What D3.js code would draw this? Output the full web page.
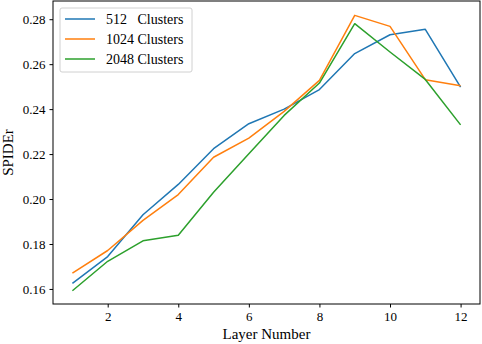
<!DOCTYPE html>
<html>
<head>
<meta charset="utf-8">
<script src="https://cdn.jsdelivr.net/npm/d3@7"></script>
<style>
  body { margin: 0; background: #fff; }
  svg text { font-family: 'Liberation Serif', 'Times New Roman', serif; fill: #000; }
</style>
</head>
<body>
<div id="chart"></div>
<script>
const layers = [1, 2, 3, 4, 5, 6, 7, 8, 9, 10, 11, 12];
const clusters512 = [0.1625, 0.1744, 0.1930, 0.2065, 0.2224, 0.2335, 0.2400, 0.2487, 0.2647, 0.2731, 0.2755, 0.2498];
const clusters1024 = [0.1670, 0.1771, 0.1905, 0.2020, 0.2186, 0.2271, 0.2390, 0.2528, 0.2817, 0.2768, 0.2531, 0.2504];
const clusters2048 = [0.1592, 0.1723, 0.1814, 0.1839, 0.2030, 0.2201, 0.2372, 0.2516, 0.2780, 0.2654, 0.2532, 0.2330];
const seriesNames = ['512   Clusters', '1024 Clusters', '2048 Clusters'];
const xTicks = [2, 4, 6, 8, 10, 12];
const yTicks = [0.16, 0.18, 0.20, 0.22, 0.24, 0.26, 0.28];

const colors = ['#1f77b4', '#ff7f0e', '#2ca02c'];
const allSeries = [clusters512, clusters1024, clusters2048];

const width = 482, height = 344;
const margin = { top: 1, right: 2, bottom: 40, left: 53 };

const svg = d3.select('#chart')
  .append('svg')
  .attr('width', width)
  .attr('height', height);

const x = d3.scaleLinear().domain([0.45, 12.55]).range([margin.left, width - margin.right]);
const y = d3.scaleLinear().domain([0.1533, 0.2881]).range([height - margin.bottom, margin.top]);

// axes
svg.append('g')
  .attr('transform', `translate(0,${height - margin.bottom})`)
  .call(d3.axisBottom(x).tickValues(xTicks).tickFormat(d3.format('d')).tickSize(3.5).tickPadding(4))
  .call(g => g.select('.domain').remove())
  .call(g => g.selectAll('text').style('font-size', '13px').style('font-family', "'Liberation Serif', serif"));

svg.append('g')
  .attr('transform', `translate(${margin.left},0)`)
  .call(d3.axisLeft(y).tickValues(yTicks).tickFormat(d3.format('.2f')).tickSize(3.5).tickPadding(4))
  .call(g => g.select('.domain').remove())
  .call(g => g.selectAll('text').style('font-size', '13px').style('font-family', "'Liberation Serif', serif"));

// frame
svg.append('rect')
  .attr('x', margin.left)
  .attr('y', margin.top)
  .attr('width', width - margin.right - margin.left)
  .attr('height', height - margin.bottom - margin.top)
  .attr('fill', 'none')
  .attr('stroke', '#000')
  .attr('stroke-width', 1);

// lines
const line = d3.line()
  .x((d, i) => x(layers[i]))
  .y(d => y(d));

allSeries.forEach((s, i) => {
  svg.append('path')
    .datum(s)
    .attr('d', line)
    .attr('fill', 'none')
    .attr('stroke', colors[i])
    .attr('stroke-width', 1.5)
    .attr('stroke-linejoin', 'round');
});

// axis labels
svg.append('text')
  .attr('x', (margin.left + width - margin.right) / 2)
  .attr('y', 339)
  .attr('text-anchor', 'middle')
  .style('font-size', '15px')
  .text('Layer Number');

svg.append('text')
  .attr('transform', `translate(13,${(margin.top + height - margin.bottom) / 2}) rotate(-90)`)
  .attr('text-anchor', 'middle')
  .style('font-size', '15px')
  .text('SPIDEr');

// legend
const legend = svg.append('g').attr('transform', 'translate(60,8)');
legend.append('rect')
  .attr('width', 132)
  .attr('height', 64)
  .attr('rx', 2)
  .attr('fill', '#fff')
  .attr('fill-opacity', 0.8)
  .attr('stroke', '#d0d0d0');

seriesNames.forEach((name, i) => {
  const gy = 11 + i * 20;
  legend.append('line')
    .attr('x1', 5).attr('x2', 35)
    .attr('y1', gy).attr('y2', gy)
    .attr('stroke', colors[i])
    .attr('stroke-width', 1.5);
  legend.append('text')
    .attr('x', 46)
    .attr('y', gy + 5)
    .attr('xml:space', 'preserve')
    .style('white-space', 'pre')
    .style('font-size', '14px')
    .text(name);
});
</script>
</body>
</html>
